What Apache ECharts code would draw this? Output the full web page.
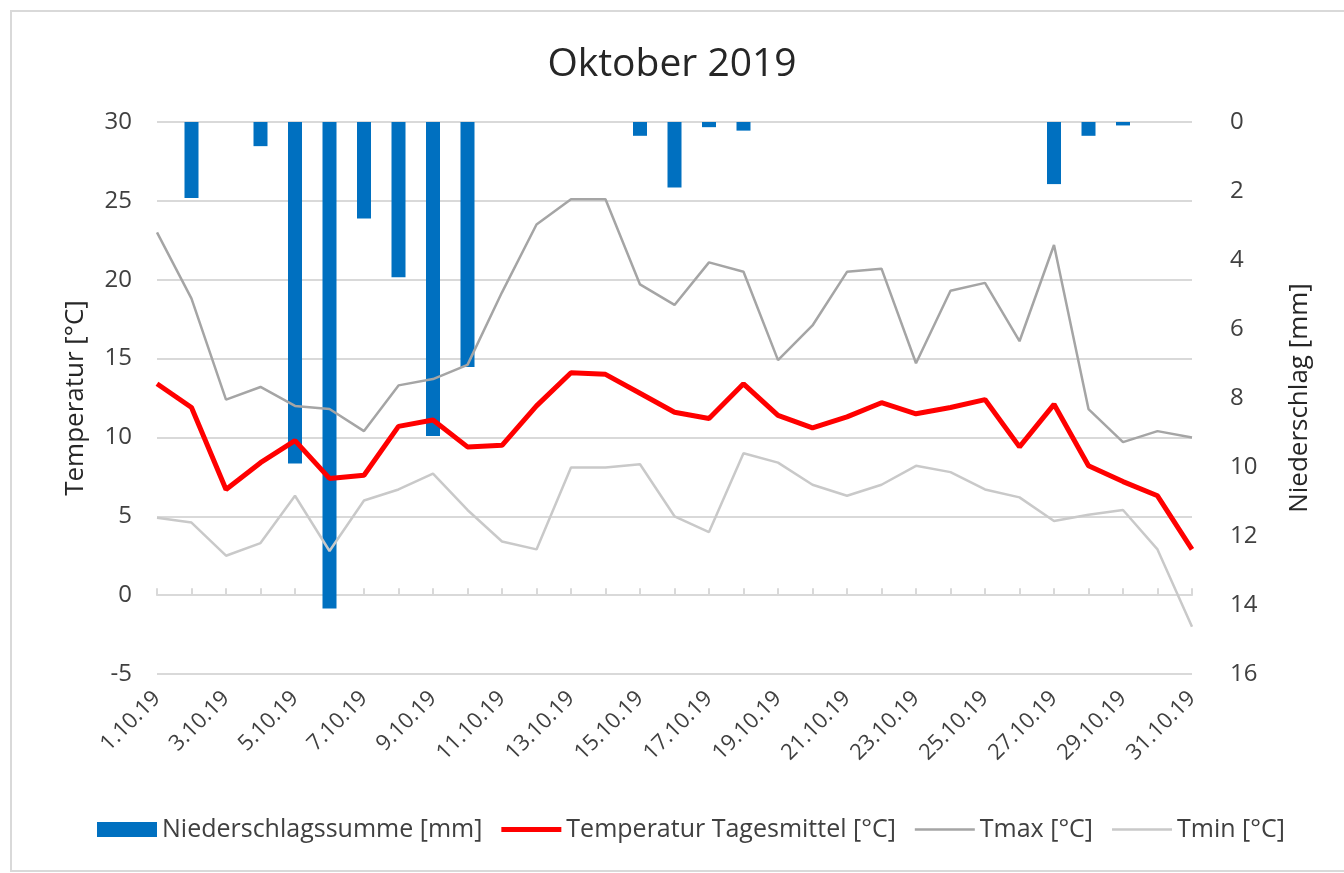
<!DOCTYPE html>
<html>
<head>
<meta charset="utf-8">
<title>Oktober 2019</title>
<script src="https://cdn.jsdelivr.net/npm/echarts@6/dist/echarts.min.js"></script>
<style>
	html, body { margin: 0; padding: 0; background: #fff; }
	#myChart { width: 1344px; height: 873px; }
</style>
</head>
<body>
<div id="myChart"></div>
<script>
// Tage im Oktober 2019
var days = ['1.10.19', '2.10.19', '3.10.19', '4.10.19', '5.10.19', '6.10.19', '7.10.19', '8.10.19',
	'9.10.19', '10.10.19', '11.10.19', '12.10.19', '13.10.19', '14.10.19', '15.10.19', '16.10.19',
	'17.10.19', '18.10.19', '19.10.19', '20.10.19', '21.10.19', '22.10.19', '23.10.19', '24.10.19',
	'25.10.19', '26.10.19', '27.10.19', '28.10.19', '29.10.19', '30.10.19', '31.10.19'];

// Niederschlagssumme [mm]
var niederschlag = [0, 2.2, 0, 0.7, 9.9, 14.1, 2.8, 4.5, 9.1, 7.1, 0, 0, 0, 0, 0.4, 1.9,
	0.15, 0.25, 0, 0, 0, 0, 0, 0, 0, 0, 1.8, 0.4, 0.1, 0, 0];

// Temperatur Tagesmittel [°C]
var tMittel = [13.4, 11.9, 6.7, 8.4, 9.8, 7.4, 7.6, 10.7, 11.1, 9.4, 9.5, 12.0, 14.1, 14.0, 12.8, 11.6,
	11.2, 13.4, 11.4, 10.6, 11.3, 12.2, 11.5, 11.9, 12.4, 9.4, 12.1, 8.2, 7.2, 6.3, 2.9];

// Tmax [°C]
var tMax = [23.0, 18.8, 12.4, 13.2, 12.0, 11.8, 10.4, 13.3, 13.7, 14.6, 19.2, 23.5, 25.1, 25.1, 19.7, 18.4,
	21.1, 20.5, 14.9, 17.1, 20.5, 20.7, 14.7, 19.3, 19.8, 16.1, 22.2, 11.8, 9.7, 10.4, 10.0];

// Tmin [°C]
var tMin = [4.9, 4.6, 2.5, 3.3, 6.3, 2.8, 6.0, 6.7, 7.7, 5.4, 3.4, 2.9, 8.1, 8.1, 8.3, 5.0,
	4.0, 9.0, 8.4, 7.0, 6.3, 7.0, 8.2, 7.8, 6.7, 6.2, 4.7, 5.1, 5.4, 2.9, -2.0];

var fontName = 'Open Sans';
var gridColor = '#d9d9d9';
var textColor = '#404040';

var myChart = echarts.init(document.getElementById('myChart'));

var option = {
	backgroundColor: '#fff',
	animation: false,
	textStyle: { fontFamily: fontName },
	graphic: [{
		type: 'rect',
		shape: { x: 11, y: 11, width: 1340, height: 860 },
		style: { fill: 'none', stroke: gridColor, lineWidth: 2 },
		silent: true
	}],
	title: {
		text: 'Oktober 2019',
		left: 'center',
		top: 40,
		textStyle: { fontFamily: fontName, fontSize: 39, fontWeight: 'normal', color: '#262626' }
	},
	legend: {
		left: 92,
		top: 812,
		itemWidth: 60,
		itemHeight: 15,
		itemGap: 19,
		symbolKeepAspect: true,
		textStyle: { fontFamily: fontName, fontSize: 25, color: textColor },
		data: [
			{ name: 'Niederschlagssumme [mm]', icon: 'rect' },
			{ name: 'Temperatur Tagesmittel [°C]', icon: 'path://M0,0H12V1H0Z' },
			{ name: 'Tmax [°C]', icon: 'path://M0,0H24V1H0Z' },
			{ name: 'Tmin [°C]', icon: 'path://M0,0H24V1H0Z' }
		]
	},
	grid: { left: 157, right: 152, top: 122, bottom: 199 },
	xAxis: [{
		type: 'category',
		data: days,
		boundaryGap: false,
		axisLine: { show: false, onZero: false },
		axisTick: { show: false },
		axisLabel: {
			interval: 1,
			rotate: 45,
			margin: 21,
			fontSize: 22,
			color: textColor
		}
	}, {
		// Achsenlinie bei 0 °C mit Teilstrichen
		type: 'category',
		data: days,
		boundaryGap: false,
		position: 'bottom',
		axisLine: { show: true, onZero: true, onZeroAxisIndex: 0, lineStyle: { color: gridColor, width: 2 } },
		axisTick: { show: true, inside: true, length: 7, interval: 0, lineStyle: { color: gridColor, width: 2 } },
		axisLabel: { show: false },
		splitLine: { show: false }
	}],
	yAxis: [{
		type: 'value',
		min: -5,
		max: 30,
		interval: 5,
		name: 'Temperatur [°C]',
		nameLocation: 'middle',
		nameRotate: 90,
		nameGap: 68,
		nameTextStyle: { fontFamily: fontName, fontSize: 26, color: '#262626' },
		axisLine: { show: false },
		axisTick: { show: false },
		axisLabel: { margin: 25, fontSize: 24, color: textColor },
		splitLine: { lineStyle: { color: gridColor, width: 2 } }
	}, {
		type: 'value',
		min: 0,
		max: 16,
		interval: 2,
		inverse: true,
		position: 'right',
		name: 'Niederschlag [mm]',
		nameLocation: 'middle',
		nameRotate: 90,
		nameGap: 95,
		nameTextStyle: { fontFamily: fontName, fontSize: 26, color: '#262626' },
		axisLine: { show: false },
		axisTick: { show: false },
		axisLabel: { margin: 38, fontSize: 24, color: textColor },
		splitLine: { show: false }
	}],
	series: [{
		name: 'Niederschlagssumme [mm]',
		type: 'bar',
		yAxisIndex: 1,
		barWidth: 14,
		itemStyle: { color: '#0070c0' },
		z: 1,
		data: niederschlag
	}, {
		name: 'Temperatur Tagesmittel [°C]',
		type: 'line',
		symbol: 'none',
		lineStyle: { color: '#ff0000', width: 5 },
		itemStyle: { color: '#ff0000' },
		z: 5,
		data: tMittel
	}, {
		name: 'Tmax [°C]',
		type: 'line',
		symbol: 'none',
		lineStyle: { color: '#a5a5a5', width: 2.5 },
		itemStyle: { color: '#a5a5a5' },
		z: 4,
		data: tMax
	}, {
		name: 'Tmin [°C]',
		type: 'line',
		symbol: 'none',
		lineStyle: { color: '#c9c9c9', width: 2.5 },
		itemStyle: { color: '#c9c9c9' },
		z: 3,
		data: tMin
	}]
};

myChart.setOption(option);
</script>
</body>
</html>
